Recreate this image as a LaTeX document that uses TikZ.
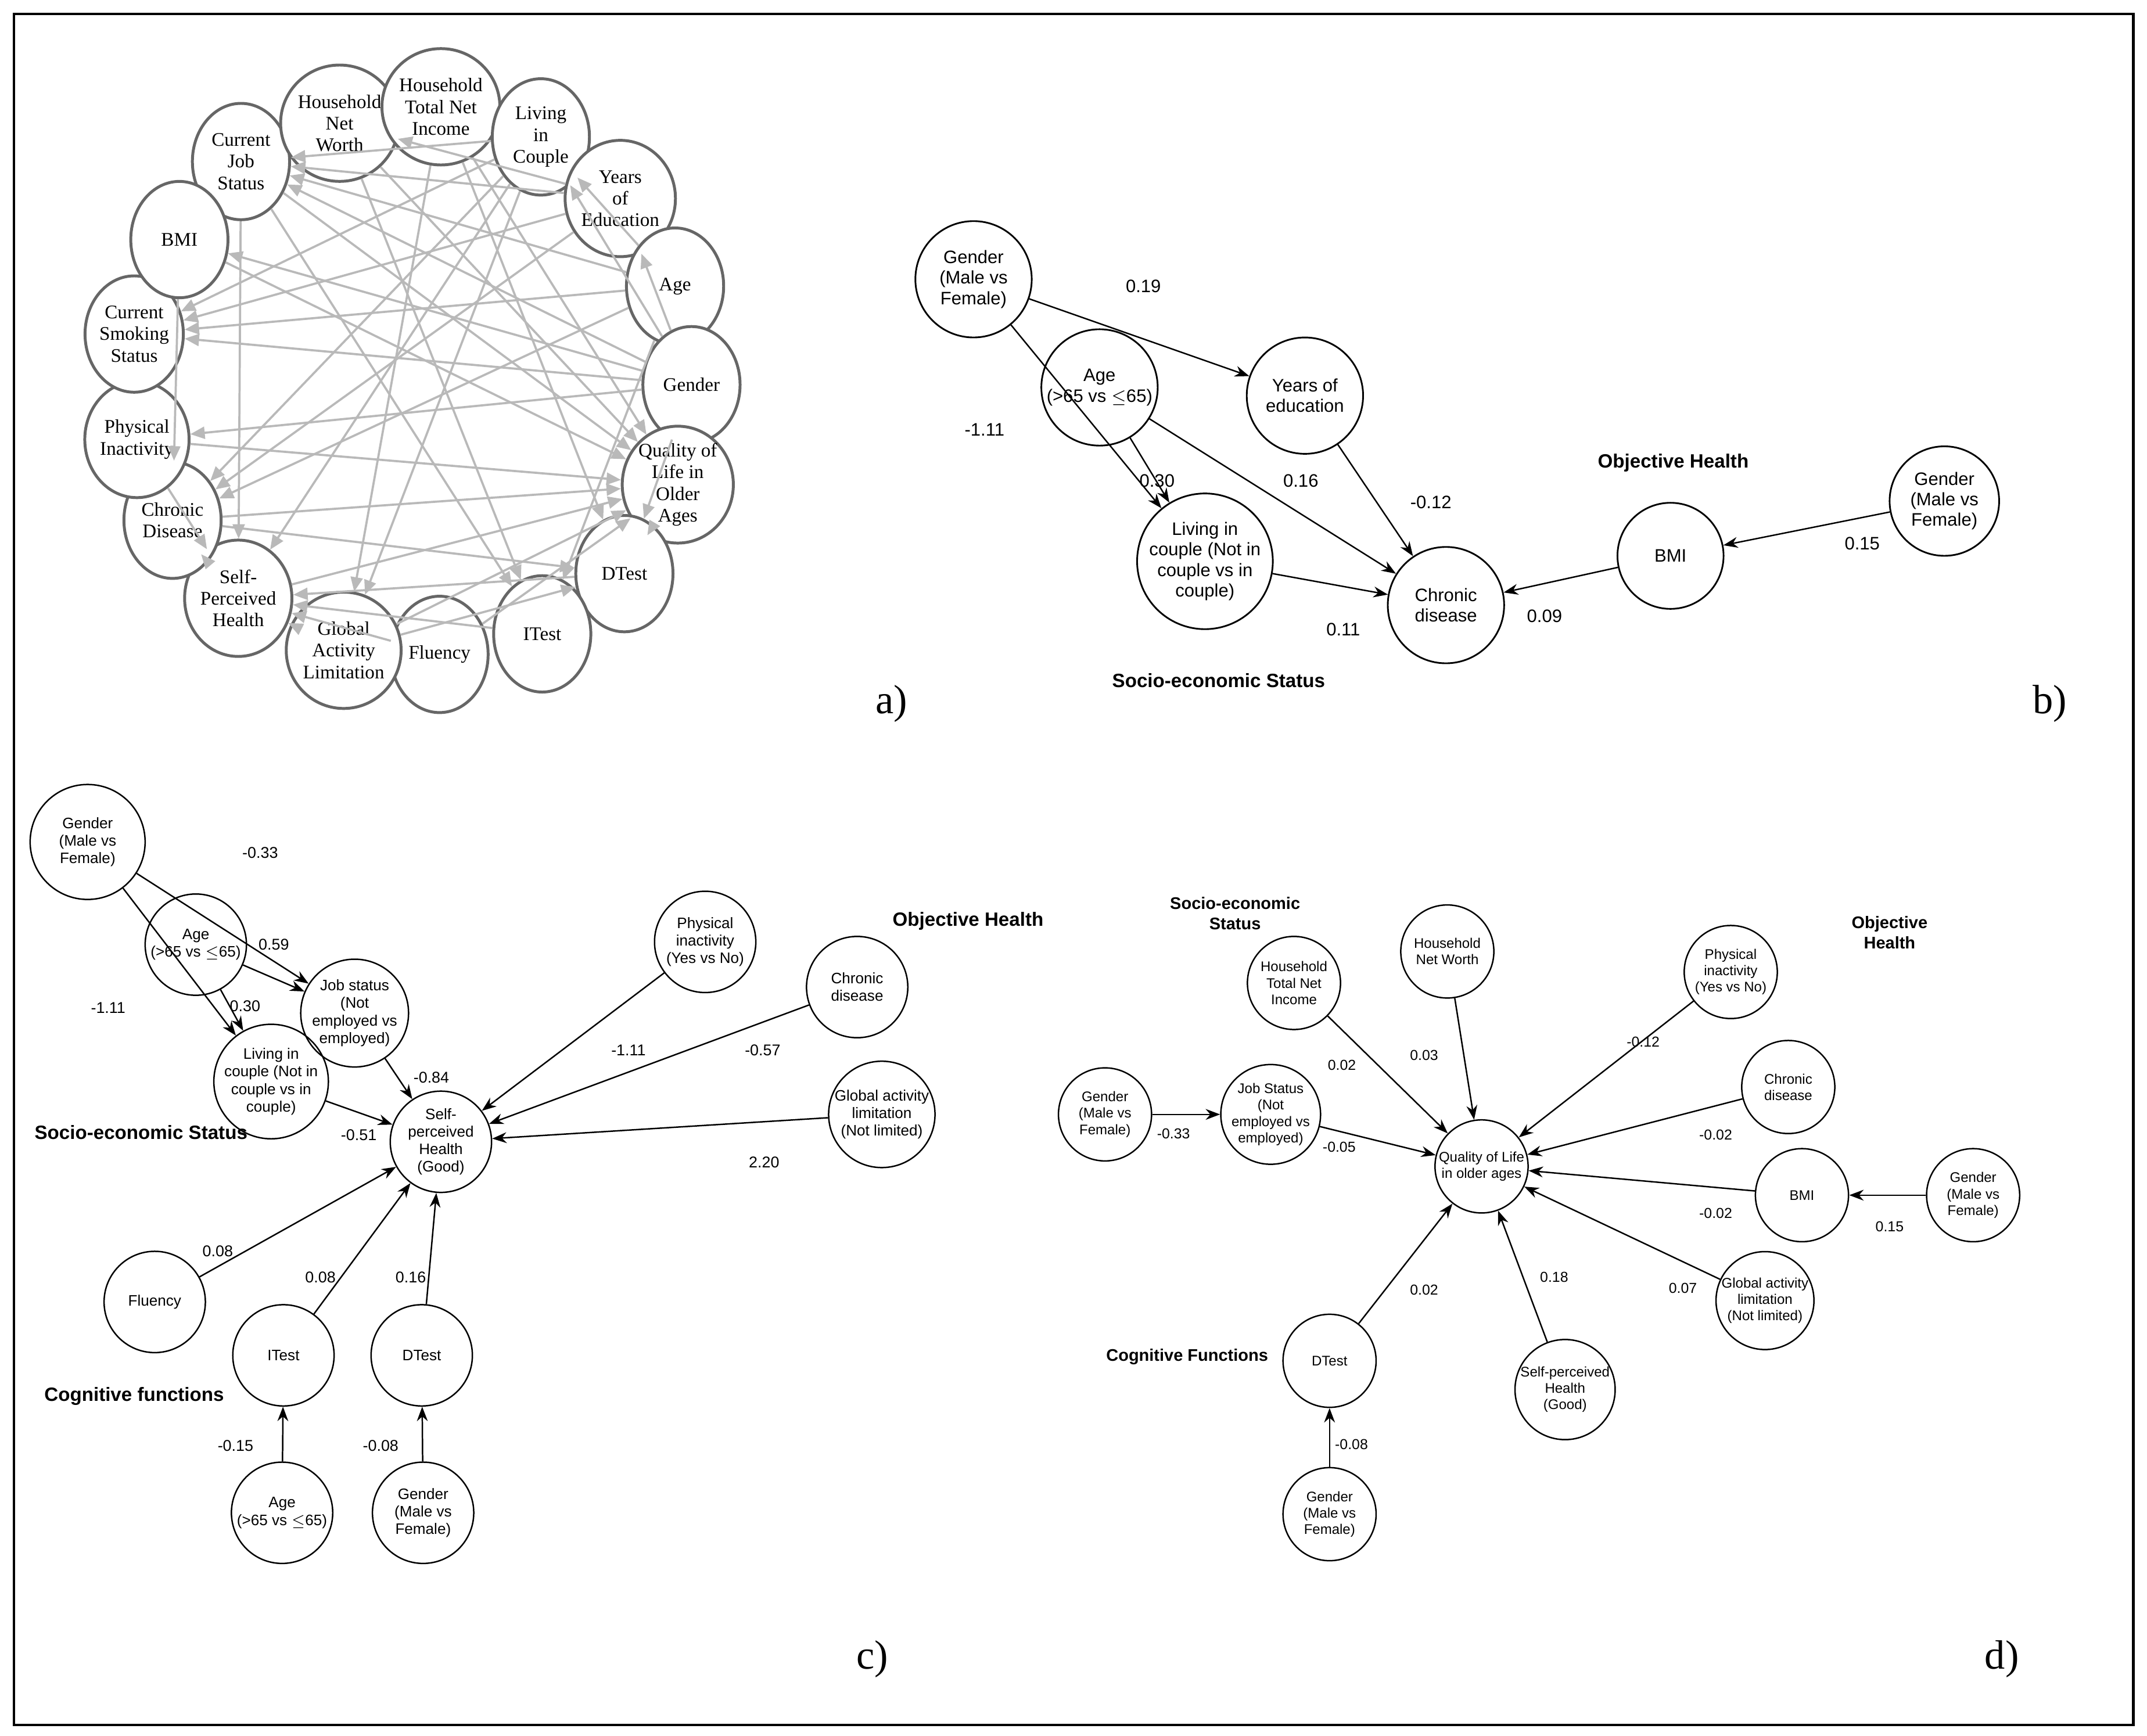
\documentclass[tikz,border=0pt]{standalone}
\usepackage{fontspec}
\setmainfont{Liberation Sans}
\newfontfamily\serifa{Liberation Serif}
\usetikzlibrary{arrows.meta,shapes.geometric}
\begin{document}
\begin{tikzpicture}[x=0.02cm,y=-0.02cm,
  an/.style={ellipse, draw=gray!80!black, line width=1.2pt, minimum width=1.42cm, minimum height=1.7cm, align=center, inner sep=0pt, font=\serifa\fontsize{8}{9}\selectfont, fill=white},
  ae/.style={draw=gray!55, line width=0.9pt, -{Triangle[length=6pt,width=5pt]}},
  bn/.style={circle, draw, line width=0.7pt, minimum size=1.7cm, inner sep=0pt, align=center, font=\fontsize{7.5}{8.5}\selectfont},
  cn/.style={circle, draw, line width=0.6pt, minimum size=1.48cm, inner sep=0pt, align=center, font=\fontsize{6.3}{7.3}\selectfont},
  dn/.style={circle, draw, line width=0.6pt, minimum size=1.36cm, inner sep=0pt, align=center, font=\fontsize{5.8}{6.8}\selectfont},
  ar/.style={-{Stealth[length=6pt,width=4.5pt]}, line width=0.6pt},
  lb/.style={font=\fontsize{7.5}{8.5}\selectfont},
  lc/.style={font=\fontsize{6.5}{7.5}\selectfont},
  ld/.style={font=\fontsize{6}{7}\selectfont},
  hd/.style={font=\bfseries\fontsize{8}{9.5}\selectfont, align=center},
  hdd/.style={font=\bfseries\fontsize{7}{8.5}\selectfont, align=center},
  pl/.style={font=\serifa\fontsize{17}{20}\selectfont}]
\useasboundingbox (0,0) rectangle (1568,1268);
\fill[white] (0,0) rectangle (1568,1268);
\draw[line width=1pt] (10,10) rectangle (1558,1260);

% ---------- panel a ----------
\begin{scope}[every node/.style={an}]
\node (aJob) at (176,118) {Current\\Job\\Status};
\node (aNW) at (248,90) {Household\\Net\\Worth};
\node (aTNI) at (322,78) {Household\\Total Net\\Income};
\node (aLiv) at (395,100) {Living\\in\\Couple};
\node (aYrs) at (453,145) {Years\\of\\Education};
\node (aAge) at (493,209) {Age};
\node (aGen) at (505,281) {Gender};
\node (aQoL) at (495,354) {Quality of\\Life in\\Older\\Ages};
\node (aDT) at (456,419) {DTest};
\node (aIT) at (396,463) {ITest};
\node (aFl) at (321,478) {Fluency};
\node (aGAL) at (251,475) {Global\\Activity\\Limitation};
\node (aSPH) at (174,437) {Self-\\Perceived\\Health};
\node (aCD) at (126,380) {Chronic\\Disease};
\node (aPI) at (100,321) {Physical\\Inactivity};
\node (aSm) at (98,244) {Current\\Smoking\\Status};
\node (aBMI) at (131,175) {BMI};
\end{scope}
\foreach \s/\t in {aGen/aYrs, aAge/aLiv, aGen/aLiv, aYrs/aCD, aAge/aCD, aLiv/aCD, aBMI/aCD, aGen/aBMI,
  aGen/aJob, aAge/aJob, aYrs/aJob, aLiv/aJob, aYrs/aNW, aJob/aSPH, aLiv/aSPH, aPI/aSPH, aCD/aSPH, aGAL/aSPH,
  aFl/aSPH, aIT/aSPH, aDT/aSPH, aAge/aIT, aGen/aDT, aTNI/aQoL, aNW/aQoL, aJob/aQoL, aPI/aQoL, aCD/aQoL,
  aBMI/aQoL, aGAL/aQoL, aSPH/aQoL, aDT/aQoL, aAge/aSm, aGen/aSm, aYrs/aSm, aLiv/aSm, aTNI/aDT, aCD/aDT,
  aGAL/aDT, aNW/aIT, aJob/aIT, aTNI/aGAL, aGen/aPI, aLiv/aGAL, aFl/aQoL}
  \draw[ae] (\s) -- (\t);
\node[pl] (la) at (651,514) {a)};

% ---------- panel b ----------
\node[bn] (bGen) at (711,204) {Gender\\(Male vs\\Female)};
\node[bn] (bAge) at (803,283) {Age\\(>65 vs $\leq$65)};
\node[bn] (bYrs) at (953,289) {Years of\\education};
\node[bn] (bLiv) at (880,410) {Living in\\couple (Not in\\couple vs in\\couple)};
\node[bn] (bCD) at (1056,442) {Chronic\\disease};
\node[bn, minimum size=1.55cm] (bBMI) at (1220,406) {BMI};
\node[bn, minimum size=1.6cm] (bGen2) at (1420,366) {Gender\\(Male vs\\Female)};
\draw[ar] (bGen) -- (bYrs);
\draw[ar] (bGen) -- (bLiv);
\draw[ar] (bAge) -- (bLiv);
\draw[ar] (bAge) -- (bCD);
\draw[ar] (bYrs) -- (bCD);
\draw[ar] (bLiv) -- (bCD);
\draw[ar] (bBMI) -- (bCD);
\draw[ar] (bGen2) -- (bBMI);
\node[lb] at (835,209) {0.19};
\node[lb] at (719,314) {-1.11};
\node[lb] at (845,351) {0.30};
\node[lb] at (950,351) {0.16};
\node[lb] at (1045,367) {-0.12};
\node[lb] at (981,460) {0.11};
\node[lb] at (1128,450) {0.09};
\node[lb] at (1360,397) {0.15};
\node[hd] at (1222,338) {Objective Health};
\node[hd] at (890,497) {Socio-economic Status};
\node[pl] (lb) at (1497,514) {b)};

% ---------- panel c ----------
\node[cn, minimum size=1.68cm] (cGen) at (64,615) {Gender\\(Male vs\\Female)};
\node[cn] (cAge) at (143,690) {Age\\(>65 vs $\leq$65)};
\node[cn] (cJob) at (259,740) {Job status\\(Not\\employed vs\\employed)};
\node[cn, minimum size=1.56cm] (cLiv) at (198,790) {Living in\\couple (Not in\\couple vs in\\couple)};
\node[cn] (cSPH) at (322,834) {Self-\\perceived\\Health\\(Good)};
\node[cn] (cPI) at (515,688) {Physical\\inactivity\\(Yes vs No)};
\node[cn] (cCD) at (626,721) {Chronic\\disease};
\node[cn] (cGAL) at (644,814) {Global activity\\limitation\\(Not limited)};
\node[cn] (cFl) at (113,951) {Fluency};
\node[cn] (cIT) at (207,990) {ITest};
\node[cn] (cDT) at (308,990) {DTest};
\node[cn] (cAge2) at (206,1105) {Age\\(>65 vs $\leq$65)};
\node[cn] (cGen2) at (309,1105) {Gender\\(Male vs\\Female)};
\draw[ar] (cGen) -- (cJob);
\draw[ar] (cGen) -- (cLiv);
\draw[ar] (cAge) -- (cJob);
\draw[ar] (cAge) -- (cLiv);
\draw[ar] (cJob) -- (cSPH);
\draw[ar] (cLiv) -- (cSPH);
\draw[ar] (cPI) -- (cSPH);
\draw[ar] (cCD) -- (cSPH);
\draw[ar] (cGAL) -- (cSPH);
\draw[ar] (cFl) -- (cSPH);
\draw[ar] (cIT) -- (cSPH);
\draw[ar] (cDT) -- (cSPH);
\draw[ar] (cAge2) -- (cIT);
\draw[ar] (cGen2) -- (cDT);
\node[lc] at (190,623) {-0.33};
\node[lc] at (200,690) {0.59};
\node[lc] at (79,736) {-1.11};
\node[lc] at (179,735) {0.30};
\node[lc] at (315,787) {-0.84};
\node[lc] at (262,829) {-0.51};
\node[lc] at (459,767) {-1.11};
\node[lc] at (557,767) {-0.57};
\node[lc] at (558,849) {2.20};
\node[lc] at (159,914) {0.08};
\node[lc] at (234,933) {0.08};
\node[lc] at (300,933) {0.16};
\node[lc] at (172,1056) {-0.15};
\node[lc] at (278,1056) {-0.08};
\node[hd] at (707,673) {Objective Health};
\node[hd] at (103,827) {Socio-economic Status};
\node[hd] at (98,1020) {Cognitive functions};
\node[pl] (lc) at (637,1212) {c)};

% ---------- panel d ----------
\node[dn] (dGen) at (807,814) {Gender\\(Male vs\\Female)};
\node[dn] (dJob) at (928,814) {Job Status\\(Not\\employed vs\\employed)};
\node[dn] (dTNI) at (945,718) {Household\\Total Net\\Income};
\node[dn] (dNW) at (1057,695) {Household\\Net Worth};
\node[dn] (dQoL) at (1082,852) {Quality of Life\\in older ages};
\node[dn] (dPI) at (1264,710) {Physical\\inactivity\\(Yes vs No)};
\node[dn] (dCD) at (1306,794) {Chronic\\disease};
\node[dn] (dBMI) at (1316,873) {BMI};
\node[dn] (dGen2) at (1441,873) {Gender\\(Male vs\\Female)};
\node[dn] (dGAL) at (1289,950) {Global activity\\limitation\\(Not limited)};
\node[dn] (dSPH) at (1143,1015) {Self-perceived\\Health\\(Good)};
\node[dn] (dDT) at (971,994) {DTest};
\node[dn] (dGen3) at (971,1106) {Gender\\(Male vs\\Female)};
\draw[ar] (dGen) -- (dJob);
\draw[ar] (dJob) -- (dQoL);
\draw[ar] (dTNI) -- (dQoL);
\draw[ar] (dNW) -- (dQoL);
\draw[ar] (dPI) -- (dQoL);
\draw[ar] (dCD) -- (dQoL);
\draw[ar] (dBMI) -- (dQoL);
\draw[ar] (dGen2) -- (dBMI);
\draw[ar] (dGAL) -- (dQoL);
\draw[ar] (dSPH) -- (dQoL);
\draw[ar] (dDT) -- (dQoL);
\draw[ar] (dGen3) -- (dDT);
\node[ld] at (857,828) {-0.33};
\node[ld] at (978,838) {-0.05};
\node[ld] at (980,778) {0.02};
\node[ld] at (1040,771) {0.03};
\node[ld] at (1200,761) {-0.12};
\node[ld] at (1253,829) {-0.02};
\node[ld] at (1253,886) {-0.02};
\node[ld] at (1380,896) {0.15};
\node[ld] at (1229,941) {0.07};
\node[ld] at (1135,933) {0.18};
\node[ld] at (1040,942) {0.02};
\node[ld] at (987,1055) {-0.08};
\node[hdd] at (902,667) {Socio-economic\\Status};
\node[hdd] at (1380,681) {Objective\\Health};
\node[hdd] at (867,991) {Cognitive Functions};
\node[pl] (ld) at (1462,1212) {d)};
\end{tikzpicture}
\end{document}
